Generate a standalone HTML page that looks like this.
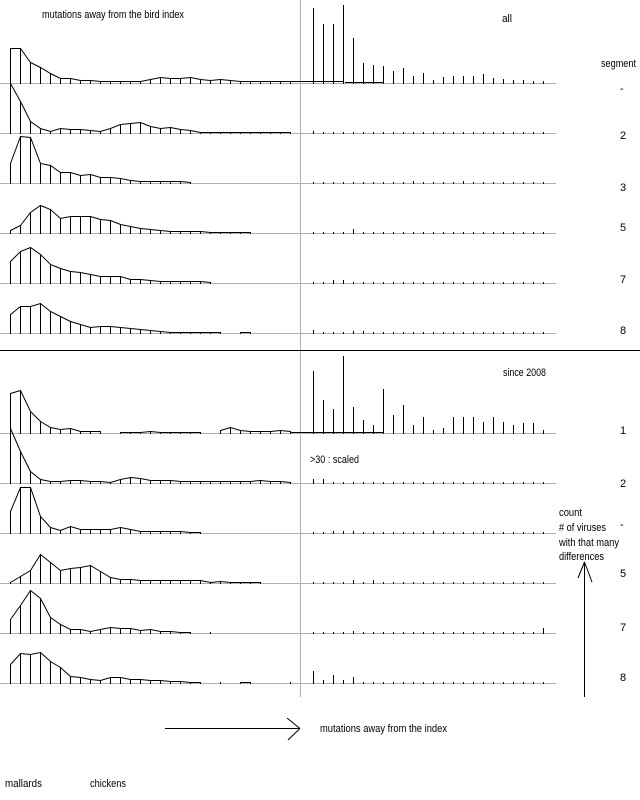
<!DOCTYPE html>
<html><head><meta charset="utf-8"><style>
html,body{margin:0;padding:0;background:#fff;width:640px;height:800px;overflow:hidden}
svg text{font-family:"Liberation Sans Narrow","Liberation Sans",sans-serif;font-size:11px;fill:#000}
</style></head><body>
<svg id="s" width="640" height="800" xmlns="http://www.w3.org/2000/svg" shape-rendering="crispEdges">
<line x1="300.5" y1="0" x2="300.5" y2="697" stroke="#b0b0b0"/>
<line x1="0" y1="350.5" x2="640" y2="350.5" stroke="#000"/>
<text x="42" y="18" textLength="142" lengthAdjust="spacingAndGlyphs">mutations away from the bird index</text>
<text x="502" y="22" textLength="10" lengthAdjust="spacingAndGlyphs">all</text>
<text x="601" y="67" textLength="35" lengthAdjust="spacingAndGlyphs">segment</text>
<text x="620" y="92">-</text>
<text x="620" y="139">2</text>
<text x="620" y="191">3</text>
<text x="620" y="231">5</text>
<text x="620" y="283">7</text>
<text x="620" y="334">8</text>
<text x="503" y="376" textLength="43" lengthAdjust="spacingAndGlyphs">since 2008</text>
<text x="620" y="434">1</text>
<text x="310" y="463" textLength="49" lengthAdjust="spacingAndGlyphs">&gt;30 : scaled</text>
<text x="620" y="487">2</text>
<text x="620" y="528">-</text>
<text x="559" y="516" textLength="23" lengthAdjust="spacingAndGlyphs">count</text>
<text x="559" y="531" textLength="47" lengthAdjust="spacingAndGlyphs"># of viruses</text>
<text x="559" y="546" textLength="60" lengthAdjust="spacingAndGlyphs">with that many</text>
<text x="559" y="560" textLength="45" lengthAdjust="spacingAndGlyphs">differences</text>
<text x="620" y="577">5</text>
<text x="620" y="631">7</text>
<text x="620" y="681">8</text>
<line x1="584.5" y1="562" x2="584.5" y2="697" stroke="#000"/>
<line x1="584.5" y1="562" x2="578" y2="578" stroke="#000" shape-rendering="auto"/>
<line x1="584.5" y1="562" x2="592" y2="582" stroke="#000" shape-rendering="auto"/>
<line x1="165" y1="728.5" x2="300" y2="728.5" stroke="#000"/>
<line x1="300" y1="728.5" x2="287" y2="718" stroke="#000" shape-rendering="auto"/>
<line x1="300" y1="728.5" x2="288" y2="740" stroke="#000" shape-rendering="auto"/>
<text x="320" y="732" textLength="127" lengthAdjust="spacingAndGlyphs">mutations away from the index</text>
<text x="5" y="787" textLength="37" lengthAdjust="spacingAndGlyphs">mallards</text>
<text x="90" y="787" textLength="36" lengthAdjust="spacingAndGlyphs">chickens</text>
<g id="g"></g>
</svg>
<script>
var rows=[
{b:83,L:[35,35,21,16,10,5,5,3,3,2,2,2,2,2,4,6,5,5,6,4,3,4,3,2,2,2,2,2,2],R:[75,59,59,78,45,20,18,17,12,15,7,10,3,6,7,7,7,9,5,4,3,3,2,2],seg:[[290,343,2],[345,383,1]]},
{b:133,L:[50,32,12,5,2,5,4,4,3,2,5,9,10,11,7,5,6,4,3,1,1,1,1,1,1,1,1,1,1],R:[2,1,1,1,1,1,1,1,1,1,1,1,1,1,1,1,1,1,1,1,1,1,1,1]},
{b:183,L:[20,47,46,20,18,11,11,8,9,6,6,5,3,2,2,2,2,2,1,0,0,0,0,0,0,0,0,0,0],R:[1,1,1,1,1,1,1,1,1,1,2,1,1,1,1,2,1,1,1,1,1,1,1,1]},
{b:233,L:[3,8,21,28,24,15,17,17,17,14,13,9,7,5,4,3,2,2,2,2,1,1,1,1,1,0,0,0,0],R:[1,1,1,1,4,1,1,1,1,1,1,1,1,1,1,1,1,1,1,1,1,1,1,1]},
{b:283,L:[22,32,36,29,19,15,12,11,9,7,7,7,4,4,3,2,2,2,2,2,1,0,0,0,0,0,0,0,0],R:[1,1,3,3,1,1,1,1,1,1,1,1,1,1,1,1,1,1,1,1,1,1,1,1]},
{b:333,L:[19,27,27,30,22,17,12,9,6,7,7,6,5,4,3,2,1,1,1,1,1,1,0,1,1,0,0,0,0],R:[3,1,1,1,2,2,1,1,1,1,1,1,1,1,1,1,1,1,1,1,1,1,1,1]},
{b:433,L:[40,43,22,12,6,4,5,2,2,2,0,1,1,1,2,1,1,1,1,1,0,3,6,3,2,2,2,3,2],R:[62,33,24,77,26,13,8,44,18,28,8,16,3,5,16,16,16,11,16,11,8,10,10,3],seg:[[290,383,1]]},
{b:483,L:[55,32,12,4,2,2,3,3,2,2,1,4,6,5,3,3,3,2,2,2,2,2,2,2,2,3,2,2,1],R:[4,4,1,1,1,1,1,1,1,1,1,1,1,1,1,1,1,1,1,1,1,1,1,1]},
{b:533,L:[22,46,46,17,6,3,7,4,4,4,4,6,4,2,2,2,2,2,1,1,0,0,0,0,0,0,0,0,0],R:[1,1,2,2,2,1,1,1,1,1,1,1,2,1,1,1,1,2,1,1,1,1,1,1]},
{b:583,L:[1,7,13,29,21,13,15,16,18,12,6,4,4,3,3,3,3,3,3,3,1,2,1,1,1,1,0,0,0],R:[1,1,1,1,3,1,3,1,1,1,1,1,1,1,1,1,1,1,1,1,1,1,1,1]},
{b:633,L:[14,28,43,35,16,9,4,4,2,4,6,5,5,3,4,2,2,1,1,0,1,0,0,0,0,0,0,0,0],R:[1,1,1,1,2,1,1,1,1,1,1,1,1,1,1,1,1,1,1,1,1,1,1,5]},
{b:683,L:[19,30,29,31,22,16,7,6,4,3,6,6,4,4,3,3,2,2,1,1,0,1,0,1,1,0,0,0,1],R:[12,3,8,3,6,1,1,1,1,1,1,1,1,1,1,1,1,1,1,1,1,1,1,1]}
];
var h='';
rows.forEach(function(r){
 var b=r.b;
 h+='<line x1="0" y1="'+(b+.5)+'" x2="556" y2="'+(b+.5)+'" stroke="#b0b0b0"/>';
 var pts=[];
 r.L.forEach(function(v,i){var x=10+10*i+.5;
  if(v>0){h+='<line x1="'+x+'" y1="'+(b-v)+'" x2="'+x+'" y2="'+(b+1)+'" stroke="#000"/>';pts.push(x+','+(b-v+.5));}
  else if(pts.length){h+='<polyline points="'+pts.join(' ')+'" fill="none" stroke="#000" shape-rendering="auto"/>';pts=[];}
 });
 if(pts.length)h+='<polyline points="'+pts.join(' ')+'" fill="none" stroke="#000" shape-rendering="auto"/>';
 r.R.forEach(function(v,i){var x=313+10*i+.5;
  h+='<line x1="'+x+'" y1="'+(b-v)+'" x2="'+x+'" y2="'+(b+1)+'" stroke="#000"/>';});
 (r.seg||[]).forEach(function(s){h+='<line x1="'+s[0]+'" y1="'+(b-s[2]+.5)+'" x2="'+s[1]+'" y2="'+(b-s[2]+.5)+'" stroke="#000"/>';});
});
document.getElementById('g').innerHTML=h;
</script>
</body></html>
